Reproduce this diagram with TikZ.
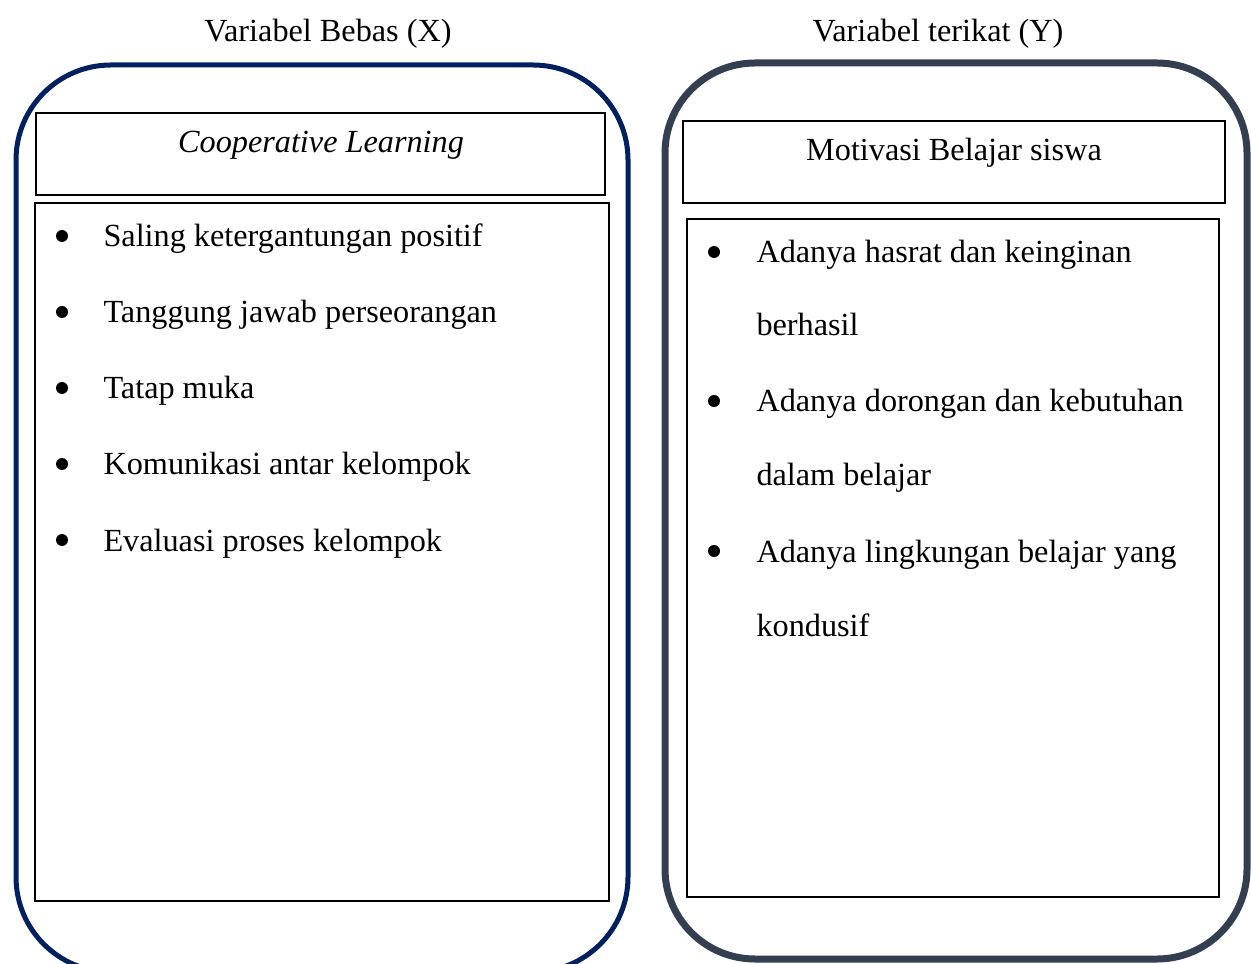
\documentclass[tikz,border=0pt]{standalone}
\usepackage{fontspec}
\setmainfont{Liberation Serif}
\definecolor{navyX}{HTML}{002060}
\definecolor{slateY}{HTML}{333F50}
\begin{document}
\begin{tikzpicture}[x=0.4pt,y=-0.4pt,
  txt/.style={inner sep=0pt,anchor=base west,font=\fontsize{12.9}{15}\selectfont},
  ctxt/.style={inner sep=0pt,anchor=base,font=\fontsize{12.9}{15}\selectfont},
  innerbox/.style={draw=black,line width=0.8pt},
  bul/.style={fill=black}]
\useasboundingbox (0,0) rectangle (1251,964);
\clip (0,0) rectangle (1251,964);
% outer frames
\draw[navyX,line width=2pt,rounded corners=38pt] (16,65) rectangle (628,972);
\draw[slateY,line width=2.8pt,rounded corners=36pt] (665,63) rectangle (1247,959);
% headers
\node[ctxt] (hx) at (328,42) {Variabel Bebas (X)};
\node[ctxt] (hy) at (938,42) {Variabel terikat (Y)};
% left boxes
\draw[innerbox] (36,113) rectangle (605,195);
\draw[innerbox] (35,203) rectangle (609,901);
\node[ctxt] (tx) at (321,153) {\itshape Cooperative Learning};
\foreach \yy/\t [count=\i] in {247/Saling ketergantungan positif,323/Tanggung jawab perseorangan,399/Tatap muka,475/Komunikasi antar kelompok,551/Evaluasi proses kelompok}{
  \fill[bul] (62,\yy-11) circle (2.4pt);
  \node[txt] (lx\i) at (103,\yy) {\t};
}
% right boxes
\draw[innerbox] (683,121) rectangle (1225,203);
\draw[innerbox] (687,219) rectangle (1219,897);
\node[ctxt] (ty) at (954,161) {Motivasi Belajar siswa};
\foreach \yy in {263,412,562}{\fill[bul] (714,\yy-11) circle (2.4pt);}
\node[txt] (ry1) at (756,263) {Adanya hasrat dan keinginan};
\node[txt] (ry2) at (756,336) {berhasil};
\node[txt] (ry3) at (756,412) {Adanya dorongan dan kebutuhan};
\node[txt] (ry4) at (756,486) {dalam belajar};
\node[txt] (ry5) at (756,562) {Adanya lingkungan belajar yang};
\node[txt] (ry6) at (756,636) {kondusif};
\end{tikzpicture}
\end{document}
